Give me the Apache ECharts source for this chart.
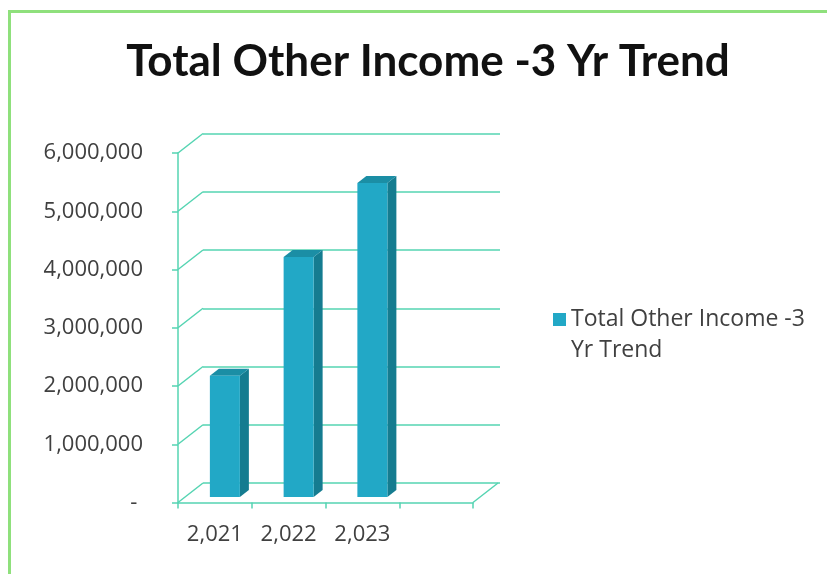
<!DOCTYPE html>
<html>
<head>
<meta charset="utf-8">
<script src="https://cdn.jsdelivr.net/npm/echarts@6/dist/echarts.min.js"></script>
<style>
  html, body { margin: 0; padding: 0; background: #ffffff; }
  #chart { width: 827px; height: 574px; }
</style>
</head>
<body>
<div id="chart"></div>
<script>
// Chart content
const chartTitle = 'Total Other Income -3 Yr Trend';
const seriesName = 'Total Other Income -3 Yr Trend';
const years = ['2,021', '2,022', '2,023'];
const income = [2080000, 4120000, 5390000];
const yTicks = [0, 1000000, 2000000, 3000000, 4000000, 5000000, 6000000];

// Styling
const GRID_COLOR = '#55d4b2';
const TEXT_COLOR = '#404040';
const FRONT = '#22a8c6';
const SIDE = '#157c90';
const TOP = '#1b8ea5';
const DEPTH_X = 25, DEPTH_Y = -19.5;      // depth of the back wall
const BAR_W = 30, BAR_DX = 9, BAR_DY = -7; // bar face width and bar depth
const BAR_SHIFT_X = 10, BAR_SHIFT_Y = -5.5; // bars stand a little behind the front edge

// three years plus one empty slot at the right end of the floor
const slots = years.concat(['']);
const yMax = yTicks[yTicks.length - 1];
const yStep = yTicks[1] - yTicks[0];

function fmtValue(v) {
  return v === 0 ? '- ' : v.toLocaleString('en-US');
}

const chart = echarts.init(document.getElementById('chart'), null, { renderer: 'canvas' });

chart.setOption({
  backgroundColor: '#ffffff',
  animation: false,
  title: {
    text: chartTitle,
    left: 423,
    top: 35,
    textAlign: 'center',
    textStyle: { fontFamily: 'Lato', fontWeight: 'bold', fontSize: 44, color: '#111111' }
  },
  legend: {
    data: [{ name: seriesName, icon: 'rect', itemStyle: { color: FRONT } }],
    left: 553,
    top: 273,
    padding: 0,
    itemWidth: 13,
    itemHeight: 13,
    // leading blank line keeps the marker level with the first text line
    formatter: name => '\n' + name.replace(' Yr', '\nYr'),
    textStyle: {
      fontFamily: 'Open Sans',
      fontSize: 23,
      color: TEXT_COLOR,
      lineHeight: 31
    }
  },
  graphic: [{
    type: 'rect',
    shape: { x: 9.5, y: 11.5, width: 840, height: 600 },
    style: { fill: 'none', stroke: '#8fe07c', lineWidth: 3 },
    silent: true,
    z: 100
  }],
  grid: [
    // front plane: axes and labels
    { left: 178, top: 153, width: 295, height: 349.5, containLabel: false },
    // back wall: gridlines
    { left: 203, top: 133.5, width: 297, height: 349.5, containLabel: false }
  ],
  xAxis: [{
    type: 'category',
    gridIndex: 0,
    data: slots,
    boundaryGap: true,
    axisLine: { show: true, lineStyle: { color: GRID_COLOR, width: 1.5 } },
    axisTick: { show: true, length: 6, lineStyle: { color: GRID_COLOR, width: 1.5 } },
    axisLabel: { margin: 21, fontFamily: 'Open Sans', fontSize: 22, color: TEXT_COLOR },
    splitLine: { show: false }
  }, {
    type: 'category',
    gridIndex: 1,
    data: slots,
    show: false
  }],
  yAxis: [{
    type: 'value',
    gridIndex: 0,
    min: 0,
    max: yMax,
    interval: yStep,
    axisLine: { show: true, lineStyle: { color: GRID_COLOR, width: 1.5 } },
    axisTick: { show: true, length: 6, lineStyle: { color: GRID_COLOR, width: 1.5 } },
    axisLabel: { margin: 35, fontFamily: 'Open Sans', fontSize: 22, color: TEXT_COLOR, formatter: fmtValue },
    splitLine: { show: false }
  }, {
    type: 'value',
    gridIndex: 1,
    min: 0,
    max: yMax,
    interval: yStep,
    axisLine: { show: false },
    axisTick: { show: false },
    axisLabel: { show: false },
    splitLine: { show: true, lineStyle: { color: GRID_COLOR, width: 1.5 } }
  }],
  series: [{
    // side wall and floor edges
    type: 'custom',
    name: 'walls',
    xAxisIndex: 0,
    yAxisIndex: 0,
    silent: true,
    z: 1,
    data: yTicks.map(v => [0, v]),
    encode: { x: 0, y: 1 },
    renderItem(params, api) {
      const cs = params.coordSys;
      const v = api.value(1);
      const y = api.coord([0, v])[1];
      const style = { stroke: GRID_COLOR, lineWidth: 1.5 };
      const children = [{
        type: 'line',
        shape: { x1: cs.x, y1: y, x2: cs.x + DEPTH_X, y2: y + DEPTH_Y },
        style
      }];
      if (v === 0) {
        children.push({
          type: 'line',
          shape: { x1: cs.x + cs.width, y1: y, x2: cs.x + cs.width + DEPTH_X, y2: y + DEPTH_Y },
          style
        });
      }
      return { type: 'group', children };
    }
  }, {
    type: 'custom',
    name: seriesName,
    xAxisIndex: 0,
    yAxisIndex: 0,
    z: 5,
    itemStyle: { color: FRONT },
    data: income.map((v, i) => [i, v]),
    encode: { x: 0, y: 1 },
    renderItem(params, api) {
      const i = api.value(0);
      const v = api.value(1);
      const base = api.coord([i, 0]);
      const top = api.coord([i, v]);
      const cx = base[0] + BAR_SHIFT_X;
      const yb = base[1] + BAR_SHIFT_Y;
      const yt = top[1] + BAR_SHIFT_Y;
      const l = cx - BAR_W / 2;
      const r = cx + BAR_W / 2;
      return {
        type: 'group',
        children: [{
          type: 'polygon',
          shape: { points: [[r, yt], [r + BAR_DX, yt + BAR_DY], [r + BAR_DX, yb + BAR_DY], [r, yb]] },
          style: { fill: SIDE }
        }, {
          type: 'polygon',
          shape: { points: [[l, yt], [l + BAR_DX, yt + BAR_DY], [r + BAR_DX, yt + BAR_DY], [r, yt]] },
          style: { fill: TOP }
        }, {
          type: 'rect',
          shape: { x: l, y: yt, width: BAR_W, height: yb - yt },
          style: { fill: FRONT }
        }]
      };
    }
  }]
});
</script>
</body>
</html>
